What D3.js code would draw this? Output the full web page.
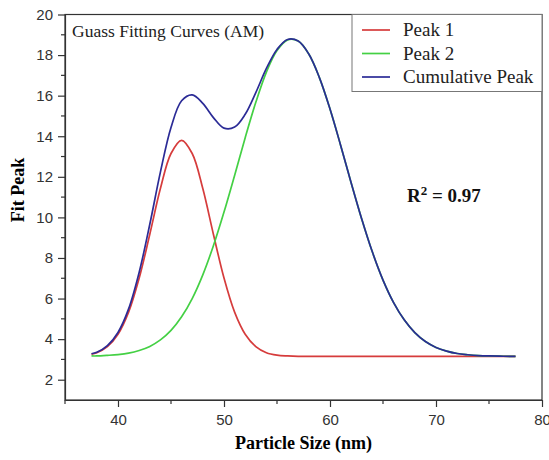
<!DOCTYPE html>
<html>
<head>
<meta charset="utf-8">
<script src="https://cdn.jsdelivr.net/npm/d3@7"></script>
<style>
  body { margin: 0; background: #fff; }
  svg { display: block; }
</style>
</head>
<body>
<svg id="chart" width="549" height="460"></svg>
<script>
const width = 549;
const height = 460;

// particle size (nm)
const sizes = [37.5, 38, 39, 40, 41, 42, 43, 44, 45, 46, 47, 48, 49, 50, 51, 52, 53, 54, 55, 56, 57,
    58, 59, 60, 61, 62, 63, 64, 65, 66, 67, 68, 69, 70, 71, 72, 73, 74, 75, 76, 77, 77.5];

const peak1 = [3.26, 3.33, 3.63, 4.24, 5.33, 7.01, 9.17, 11.42, 13.15, 13.80, 13.15, 11.42, 9.17, 7.01, 5.33, 4.24, 3.63, 3.33, 3.21, 3.17, 3.15,
    3.15, 3.15, 3.15, 3.15, 3.15, 3.15, 3.15, 3.15, 3.15, 3.15, 3.15, 3.15, 3.15, 3.15, 3.15, 3.15, 3.15, 3.15, 3.15, 3.15, 3.15];

const peak2 = [3.17, 3.17, 3.20, 3.24, 3.31, 3.44, 3.64, 3.96, 4.43, 5.10, 6.00, 7.17, 8.60, 10.26, 12.07, 13.93, 15.67, 17.16, 18.22, 18.75, 18.69,
    18.05, 16.89, 15.34, 13.56, 11.70, 9.91, 8.29, 6.91, 5.80, 4.95, 4.32, 3.88, 3.59, 3.41, 3.29, 3.23, 3.19, 3.17, 3.16, 3.15, 3.15];

const cumulative = [3.28, 3.35, 3.68, 4.33, 5.49, 7.30, 9.66, 12.23, 14.43, 15.75, 16.04, 15.62, 14.92, 14.40, 14.45, 15.08, 16.15, 17.34, 18.28, 18.77, 18.69,
    18.05, 16.89, 15.34, 13.56, 11.70, 9.91, 8.29, 6.91, 5.80, 4.95, 4.32, 3.88, 3.59, 3.41, 3.29, 3.23, 3.19, 3.17, 3.16, 3.15, 3.15];

const seriesNames = ["Peak 1", "Peak 2", "Cumulative Peak"];
const seriesColors = ["#d63c3c", "#44d044", "#2b2b96"];
const xTicks = [40, 50, 60, 70, 80];
const yTicks = [2, 4, 6, 8, 10, 12, 14, 16, 18, 20];

const margin = {left: 65, right: 7, top: 14.5, bottom: 60};
const svg = d3.select("#chart");

const x = d3.scaleLinear().domain([35, 80]).range([margin.left, width - margin.right]);
const y = d3.scaleLinear().domain([1, 20]).range([height - margin.bottom, margin.top]);

// frame
svg.append("rect")
    .attr("x", x(35)).attr("y", y(20))
    .attr("width", x(80) - x(35)).attr("height", y(1) - y(20))
    .attr("fill", "none").attr("stroke", "#333").attr("stroke-width", 1.2);

// axes
const tickFont = "'Liberation Sans', Arial, sans-serif";
const serif = "'Liberation Serif', 'Times New Roman', serif";
const xAxis = svg.append("g")
    .attr("transform", `translate(0,${y(1)})`)
    .call(d3.axisBottom(x).tickValues(xTicks).tickSize(7).tickPadding(7).tickSizeOuter(0));
xAxis.append("g").selectAll("line")
    .data([35, 45, 55, 65, 75])
    .enter().append("line")
    .attr("x1", d => x(d)).attr("x2", d => x(d))
    .attr("y1", 0).attr("y2", 4)
    .attr("stroke", "#333").attr("stroke-width", 1.2);

const yAxis = svg.append("g")
    .attr("transform", `translate(${x(35)},0)`)
    .call(d3.axisLeft(y).tickValues(yTicks).tickSize(7).tickPadding(5).tickSizeOuter(0));
yAxis.append("g").selectAll("line")
    .data([3, 5, 7, 9, 11, 13, 15, 17, 19])
    .enter().append("line")
    .attr("x1", 0).attr("x2", -4)
    .attr("y1", d => y(d)).attr("y2", d => y(d))
    .attr("stroke", "#333").attr("stroke-width", 1.2);

svg.selectAll(".domain").attr("stroke", "#333").attr("stroke-width", 1.2);
svg.selectAll(".tick line").attr("stroke", "#333").attr("stroke-width", 1.2);
svg.selectAll(".tick text")
    .attr("font-family", tickFont).attr("font-size", 15).attr("fill", "#333");

// axis titles
svg.append("text")
    .attr("x", (x(35) + x(80)) / 2).attr("y", 449)
    .attr("text-anchor", "middle")
    .attr("font-family", serif)
    .attr("font-weight", "bold").attr("font-size", 18)
    .text("Particle Size (nm)");

svg.append("text")
    .attr("transform", "translate(24,190) rotate(-90)")
    .attr("text-anchor", "middle")
    .attr("font-family", serif)
    .attr("font-weight", "bold").attr("font-size", 18)
    .text("Fit Peak");

// curves
const allSeries = [peak1, peak2, cumulative];
const line = d3.line()
    .x((d, i) => x(sizes[i]))
    .y(d => y(d))
    .curve(d3.curveCatmullRom.alpha(0.5));

allSeries.forEach((vals, k) => {
    svg.append("path")
        .datum(vals)
        .attr("d", line)
        .attr("fill", "none")
        .attr("stroke", seriesColors[k])
        .attr("stroke-width", 1.7);
});

// title inside plot
svg.append("text")
    .attr("x", 72).attr("y", 37)
    .attr("font-family", serif)
    .attr("font-size", 17.5).attr("fill", "#222")
    .text("Guass Fitting Curves (AM)");

// R squared
const r2 = svg.append("text")
    .attr("x", 407).attr("y", 202)
    .attr("font-family", serif)
    .attr("font-weight", "bold").attr("font-size", 19).attr("fill", "#111");
r2.append("tspan").text("R");
r2.append("tspan").attr("dy", -7).attr("font-size", 13).text("2");
r2.append("tspan").attr("dy", 7).text(" = 0.97");

// legend
const legend = svg.append("g");
legend.append("rect")
    .attr("x", 352).attr("y", y(20))
    .attr("width", x(80) - 352).attr("height", 77)
    .attr("fill", "#fff").attr("stroke", "#777").attr("stroke-width", 1);
seriesNames.forEach((name, k) => {
    const ly = 30 + k * 23.5;
    legend.append("line")
        .attr("x1", 362).attr("x2", 390)
        .attr("y1", ly).attr("y2", ly)
        .attr("stroke", seriesColors[k]).attr("stroke-width", 1.7);
    legend.append("text")
        .attr("x", 403).attr("y", ly + 6)
        .attr("font-family", serif)
        .attr("font-size", 19).attr("fill", "#222")
        .text(name);
});
</script>
</body>
</html>
